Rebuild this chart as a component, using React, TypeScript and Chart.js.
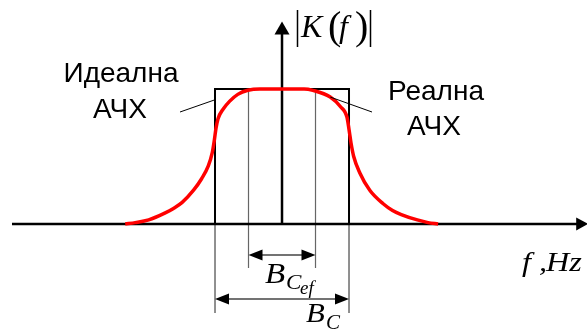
import React, { useEffect, useRef } from "react";
import { Chart, registerables } from "chart.js";

Chart.register(...registerables);

// Normalised frequency: ideal passband edges at ±1 (B_C = 2), effective band edges at ±0.5
const idealEdge = 1;
const effEdge = 0.5;

// Real frequency response |K(f)| (normalised to 1 in the passband)
const realF = [-2.34, -2.19, -1.99, -1.75, -1.62, -1.49, -1.32, -1.2, -1.1, -1.04, -1.01, -0.985, -0.955, -0.88, -0.78, -0.66, -0.51, -0.33, 0, 0.33, 0.46, 0.72, 0.87, 0.97, 1.0, 1.03, 1.07, 1.16, 1.31, 1.51, 1.65, 1.78, 2.02, 2.18, 2.33];
const realK = [0, 0.01, 0.03, 0.08, 0.115, 0.16, 0.25, 0.335, 0.43, 0.53, 0.62, 0.71, 0.78, 0.85, 0.91, 0.96, 0.99, 1.0, 1.0, 1.0, 0.99, 0.94, 0.87, 0.79, 0.7, 0.6, 0.5, 0.38, 0.25, 0.15, 0.1, 0.07, 0.03, 0.01, 0];

// Ideal (rectangular) response
const idealF = [-idealEdge, -idealEdge, idealEdge, idealEdge];
const idealK = [0, 1, 1, 0];

const labelIdeal = ["Идеална", "АЧХ"];
const labelReal = ["Реална", "АЧХ"];

const SANS = '"Liberation Sans", Arial, sans-serif';
const SERIF = '"Liberation Serif", "Times New Roman", serif';

function pts(xs: number[], ys: number[]) {
  return xs.map((x, i) => ({ x, y: ys[i] }));
}

function seg(x1: number, y1: number, x2: number, y2: number, color: string, width: number, order: number) {
  return {
    data: [{ x: x1, y: y1 }, { x: x2, y: y2 }],
    borderColor: color,
    borderWidth: width,
    pointRadius: 0,
    tension: 0,
    clip: false as any,
    order,
  };
}

const annotations = {
  id: "annotations",
  afterDatasetsDraw(chart: any) {
    const ctx: CanvasRenderingContext2D = chart.ctx;
    const xs = chart.scales.x;
    const ys = chart.scales.y;
    const X = (v: number) => xs.getPixelForValue(v);
    const Y = (v: number) => ys.getPixelForValue(v);

    ctx.save();

    const tri = (ax: number, ay: number, bx: number, by: number, cx: number, cy: number) => {
      ctx.beginPath();
      ctx.moveTo(ax, ay);
      ctx.lineTo(bx, by);
      ctx.lineTo(cx, cy);
      ctx.closePath();
      ctx.fill();
    };

    const wideText = (s: string, x: number, y: number, sx: number) => {
      ctx.save();
      ctx.translate(x, y);
      ctx.scale(sx, 1);
      ctx.fillText(s, 0, 0);
      ctx.restore();
    };

    // axis arrowheads
    ctx.fillStyle = "#000";
    const x0 = X(0), y0 = Y(0);
    tri(x0, Y(1.5), x0 - 7.5, Y(1.5) + 13, x0 + 7.5, Y(1.5) + 13);
    const xEnd = X(4.57);
    tri(xEnd, y0, xEnd - 12, y0 - 6.5, xEnd - 12, y0 + 6.5);

    // dimension arrows
    const dim = (a: number, b: number, yv: number) => {
      const pa = X(a), pb = X(b), py = Y(yv);
      ctx.strokeStyle = "#444";
      ctx.lineWidth = 1.5;
      ctx.beginPath();
      ctx.moveTo(pa + 6, py);
      ctx.lineTo(pb - 6, py);
      ctx.stroke();
      ctx.fillStyle = "#000";
      tri(pa, py, pa + 14, py - 5.5, pa + 14, py + 5.5);
      tri(pb, py, pb - 14, py - 5.5, pb - 14, py + 5.5);
    };
    dim(-effEdge, effEdge, -0.23);
    dim(-idealEdge, idealEdge, -0.556);

    // leader lines
    ctx.strokeStyle = "#000";
    ctx.lineWidth = 1;
    ctx.beginPath();
    ctx.moveTo(180, 112);
    ctx.lineTo(X(-idealEdge), Y(0.92));
    ctx.moveTo(X(0.72), Y(0.94));
    ctx.lineTo(372, 112);
    ctx.stroke();

    // labels
    ctx.fillStyle = "#000";
    ctx.textBaseline = "alphabetic";
    ctx.textAlign = "center";
    ctx.font = `28px ${SANS}`;
    ctx.fillText(labelIdeal[0], 121, 82);
    ctx.fillText(labelIdeal[1], 120, 118);
    ctx.fillText(labelReal[0], 436, 100);
    ctx.fillText(labelReal[1], 434, 135);

    // |K(f)|
    ctx.textAlign = "left";
    ctx.lineWidth = 1.5;
    ctx.beginPath();
    ctx.moveTo(297.5, 10);
    ctx.lineTo(297.5, 47);
    ctx.moveTo(370.5, 10);
    ctx.lineTo(370.5, 47);
    ctx.stroke();
    ctx.font = `italic 32px ${SERIF}`;
    ctx.fillText("K", 301, 37);
    ctx.fillText("f", 339, 37);
    ctx.font = `40px ${SERIF}`;
    ctx.fillText("(", 328, 39);
    ctx.fillText(")", 355, 39);

    // B_Cef
    ctx.font = `italic 30px ${SERIF}`;
    wideText("B", 265, 283, 1.1);
    ctx.font = `italic 22px ${SERIF}`;
    wideText("C", 286, 289, 1.05);
    ctx.font = `italic 18px ${SERIF}`;
    wideText("ef", 300, 294, 1.05);

    // B_C
    ctx.font = `italic 28px ${SERIF}`;
    wideText("B", 306, 322, 1.1);
    ctx.font = `italic 20px ${SERIF}`;
    wideText("C", 326, 329, 1.05);

    // f, Hz
    ctx.font = `italic 28px ${SERIF}`;
    wideText("f", 522, 271, 1.15);
    wideText(",", 539, 271, 1.15);
    wideText("Hz", 546, 271, 1.15);

    ctx.restore();
  },
};

export default function App() {
  const ref = useRef<HTMLCanvasElement | null>(null);

  useEffect(() => {
    if (!ref.current) return;
    const chart = new Chart(ref.current, {
      type: "line",
      data: {
        datasets: [
          {
            data: pts(realF, realK),
            borderColor: "#ff0000",
            borderWidth: 3.5,
            pointRadius: 0,
            cubicInterpolationMode: "monotone",
            clip: false as any,
            order: 0,
          } as any,
          {
            data: pts(idealF, idealK),
            borderColor: "#000",
            borderWidth: 2,
            pointRadius: 0,
            tension: 0,
            clip: false as any,
            order: 2,
          },
          // frequency axis and |K| axis
          seg(-4.03, 0, 4.45, 0, "#000", 2.5, 1),
          seg(0, 0, 0, 1.42, "#000", 2.5, 1),
          // extension lines for the band edges
          seg(-idealEdge, 0, -idealEdge, -0.66, "#555", 1.3, 3),
          seg(idealEdge, 0, idealEdge, -0.66, "#555", 1.3, 3),
          seg(-effEdge, 1, -effEdge, -0.326, "#666", 1.2, 3),
          seg(effEdge, 1, effEdge, -0.326, "#666", 1.2, 3),
        ],
      },
      options: {
        animation: false,
        responsive: false,
        devicePixelRatio: 1,
        layout: { padding: 0 },
        plugins: { legend: { display: false }, tooltip: { enabled: false } },
        events: [],
        scales: {
          x: { type: "linear", min: -4.209, max: 4.552, display: false },
          y: { type: "linear", min: -0.778, max: 1.659, display: false },
        },
      },
      plugins: [annotations],
    });
    return () => chart.destroy();
  }, []);

  return (
    <div style={{ position: "absolute", left: 0, top: 0, width: 587, height: 329, background: "#fff" }}>
      <canvas ref={ref} width={587} height={329} />
    </div>
  );
}
